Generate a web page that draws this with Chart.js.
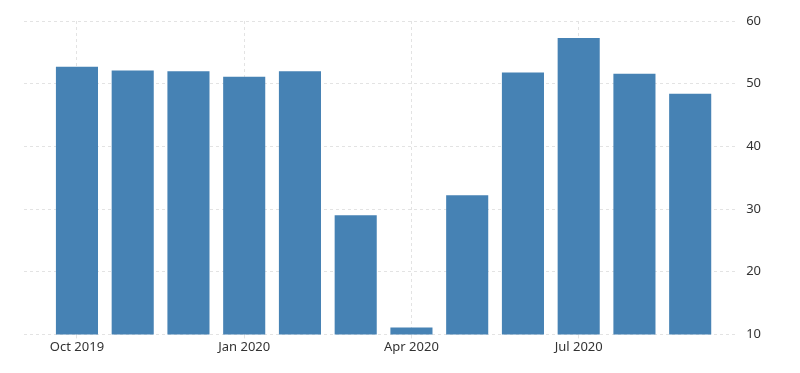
<!DOCTYPE html>
<html lang="en">
<head>
  <meta charset="UTF-8">
  <title>Monthly index</title>
  <script src="https://cdn.jsdelivr.net/npm/chart.js"></script>
  <style>
    body { margin: 0; background: #fff; }
  </style>
</head>
<body>
  <canvas id="chart" width="800" height="373"></canvas>

  <script>
    const months = ['Oct 2019', 'Nov 2019', 'Dec 2019', 'Jan 2020', 'Feb 2020', 'Mar 2020',
                    'Apr 2020', 'May 2020', 'Jun 2020', 'Jul 2020', 'Aug 2020', 'Sep 2020'];
    const values = [52.7, 52.1, 52.0, 51.1, 52.0, 29.0, 11.1, 32.2, 51.8, 57.3, 51.6, 48.4];
    const labeledMonths = [0, 3, 6, 9];
    const yTicks = [10, 20, 30, 40, 50, 60];

    const ctx = document.getElementById('chart').getContext('2d');
    new Chart(ctx, {
      type: 'bar',
      data: {
        datasets: [{
          data: values.map((v, i) => ({ x: i, y: v })),
          backgroundColor: '#4682b4',
          borderWidth: 0,
          categoryPercentage: 1,
          barPercentage: 0.755
        }]
      },
      options: {
        responsive: false,
        animation: false,
        layout: { padding: { left: 24, right: 31, top: 21, bottom: 17 } },
        plugins: { legend: { display: false }, tooltip: { enabled: false } },
        scales: {
          x: {
            type: 'linear',
            offset: false,
            min: -0.95,
            max: 11.86,
            afterBuildTicks: axis => { axis.ticks = labeledMonths.map(v => ({ value: v })); },
            ticks: {
              callback: v => months[v],
              maxRotation: 0,
              color: '#333',
              font: { family: 'Noto Sans', size: 13 },
              padding: 1
            },
            grid: { offset: false, color: '#e3e3e3', tickLength: 4, drawTicks: true },
            border: { display: false, dash: [3, 3] }
          },
          y: {
            position: 'right',
            min: 10,
            max: 60,
            afterBuildTicks: axis => { axis.ticks = yTicks.map(v => ({ value: v })); },
            ticks: {
              color: '#333',
              font: { family: 'Noto Sans', size: 13 },
              padding: 8
            },
            grid: { color: '#e3e3e3', drawTicks: false },
            border: { display: false, dash: [3, 3] }
          }
        }
      }
    });
  </script>
</body>
</html>
